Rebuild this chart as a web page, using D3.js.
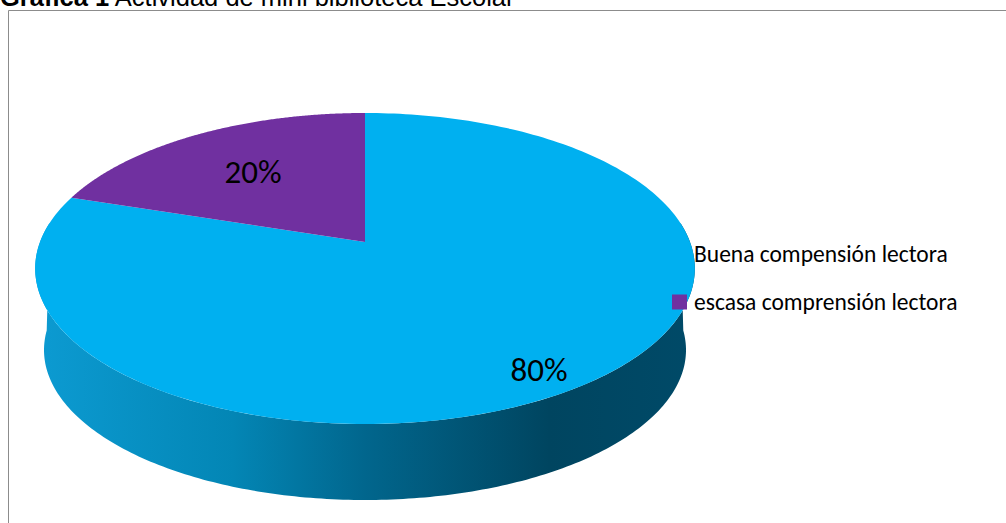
<!DOCTYPE html>
<html><head><meta charset="utf-8">
<script src="https://cdn.jsdelivr.net/npm/d3@7/dist/d3.min.js"></script>
<style>html,body{margin:0;padding:0;background:#fff;overflow:hidden}svg{display:block}</style>
</head><body><svg id="c" width="1006" height="523"></svg>
<script>
const categories = ["Buena compensión lectora", "escasa comprensión lectora"];
const values = [80, 20];
const labels = ["80%", "20%"];
const colors = ["#00B0F0", "#7030A0"];
const titleBold = "Gráfica 1";
const titleRest = " Actividad de mini biblioteca Escolar";

const svg = d3.select("#c");
const W = 1006, H = 523;
const cx = 365, R = 325, persp = -0.1704, pa = 109.75, pb = 242;
// perspective projection of the pie disc; angle 0 = back of the disc
function project(angle) {
  const u = Math.sin(angle), v = -Math.cos(angle), d = 1 + persp * v;
  return [cx + R * u / d, (pa * v + pb) / d];
}
const wallBottom = (a) => {
  const u = Math.sin(a), v = -Math.cos(a);
  return [cx + 321 * u, 350 + 150 * v];
};
const line = d3.line();
const pie = d3.pie().sort(null).startAngle(0).endAngle(2 * Math.PI)
  .value(d => d);
// first value starts at 12 o'clock clockwise
const arcs = pie(values);

// title (clipped by the top of the picture)
const t = svg.append("text").attr("x", 0).attr("y", 6)
  .attr("font-family", "Liberation Sans, Arial, sans-serif").attr("font-size", 25.5).attr("fill", "#000");
t.append("tspan").attr("font-weight", "bold").text(titleBold);
t.append("tspan").text(titleRest);

// chart frame
svg.append("path").attr("d", `M8.5,${H}V10.5H${W}`).attr("fill", "none").attr("stroke", "#8c8c8c").attr("stroke-width", 1);

// gradient of the side wall
const defs = svg.append("defs");
const grad = defs.append("linearGradient").attr("id", "wall").attr("gradientUnits", "userSpaceOnUse")
  .attr("x1", 35).attr("x2", 695).attr("y1", 0).attr("y2", 0);
[[0, "#0C9BD2"], [0.3, "#0386B5"], [0.5, "#01668D"], [0.78, "#004560"], [1, "#004A68"]]
  .forEach(([o, c]) => grad.append("stop").attr("offset", o).attr("stop-color", c));

// side wall: front half of the disc, from rim to base
const aS = d3.range(0, 201).map(i => Math.PI / 2 - 0.13 + (Math.PI + 0.26) * i / 200);
const wallPts = aS.map(project).concat(aS.slice().reverse().map(wallBottom));
svg.append("path").attr("d", line(wallPts) + "Z").attr("fill", "url(#wall)");

// top face slices
arcs.forEach((a, i) => {
  const n = 240;
  const pts = d3.range(n + 1).map(k => project(a.startAngle + (a.endAngle - a.startAngle) * k / n));
  pts.push(project.center || [cx, pb]);
  svg.append("path").attr("d", line(pts) + "Z").attr("fill", colors[i]);
});

// value labels
const labelPos = [[539, 369], [253, 171]];
labels.forEach((l, i) => svg.append("text").attr("x", labelPos[i][0]).attr("y", labelPos[i][1])
  .attr("dy", "0.35em").attr("text-anchor", "middle")
  .attr("font-family", "Carlito, Lato, sans-serif").attr("font-size", 33).attr("fill", "#000").text(l));

// legend
const legendY = d3.scalePoint().domain(categories).range([254, 302]);
categories.forEach((c, i) => {
  const y = legendY(c);
  svg.append("rect").attr("x", 672).attr("y", y - 7.5).attr("width", 15).attr("height", 15).attr("fill", colors[i]);
  svg.append("text").attr("x", 694).attr("y", y).attr("dy", "0.35em")
    .attr("font-family", "Carlito, Lato, sans-serif").attr("font-size", 23.5).attr("fill", "#000").text(c);
});
</script></body></html>
